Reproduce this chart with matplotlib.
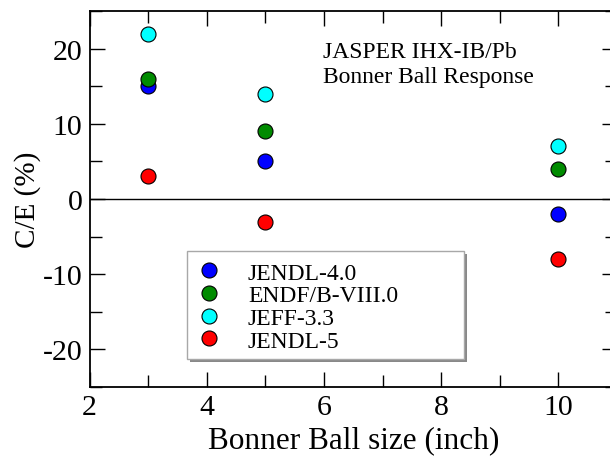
import matplotlib
matplotlib.use("Agg")
import matplotlib.pyplot as plt
from matplotlib.patches import Rectangle
from matplotlib.ticker import MultipleLocator

plt.rcParams['font.family'] = ['Liberation Serif', 'DejaVu Serif']
plt.rcParams['axes.unicode_minus'] = False

ball_size = [3, 5, 10]
libraries = ["JENDL-4.0", "ENDF/B-VIII.0", "JEFF-3.3", "JENDL-5"]
ce_values = {
    "JENDL-4.0":     [15, 5, -2],
    "ENDF/B-VIII.0": [16, 9, 4],
    "JEFF-3.3":      [22, 14, 7],
    "JENDL-5":       [3, -3, -8],
}
colors = {
    "JENDL-4.0": "#0000ff",
    "ENDF/B-VIII.0": "#008b00",
    "JEFF-3.3": "#00ffff",
    "JENDL-5": "#ff0000",
}

fig = plt.figure(figsize=(6.10, 4.64), dpi=100)
W, H = 610, 464


def fx(px):
    return px / W


def fy(py):
    return 1 - py / H


x0, x1, y0, y1 = 89.5, 617, 12, 388
ax = fig.add_axes([fx(x0), fy(y1), (x1 - x0) / W, (y1 - y0) / H])

ax.axhline(0, color="black", lw=1.0, zorder=1)

for name in libraries:
    ax.plot(ball_size, ce_values[name], linestyle="none", marker="o",
            markersize=10.8, markerfacecolor=colors[name],
            markeredgecolor="black", markeredgewidth=0.8, label=name, zorder=3)

ax.set_xlim(2, 11)
ax.set_ylim(-25, 25)
ax.xaxis.set_major_locator(MultipleLocator(2))
ax.xaxis.set_minor_locator(MultipleLocator(1))
ax.yaxis.set_major_locator(MultipleLocator(10))
ax.yaxis.set_minor_locator(MultipleLocator(5))
ax.tick_params(which="both", direction="in", top=True, right=True,
               width=1.0, labelsize=21.5, pad=5)
ax.tick_params(which="major", length=11)
ax.tick_params(which="minor", length=8.5)
for s in ax.spines.values():
    s.set_linewidth(1.3)

ax.set_xlabel("Bonner Ball size (inch)", fontsize=22.5, labelpad=4)
ax.set_ylabel("C/E (%)", fontsize=21, labelpad=1)

# title block
fig.text(fx(323), fy(58), "JASPER IHX-IB/Pb", fontsize=17,
         ha="left", va="baseline")
fig.text(fx(323), fy(83), "Bonner Ball Response", fontsize=17,
         ha="left", va="baseline")

# legend box with drop shadow
bx0, by0, bx1, by1 = 187, 252, 464, 360
shadow = Rectangle((fx(bx0 + 3), fy(by1 + 3)), (bx1 - bx0) / W, (by1 - by0) / H,
                   transform=fig.transFigure, facecolor="#888888",
                   edgecolor="none", zorder=4, clip_on=False)
box = Rectangle((fx(bx0), fy(by1)), (bx1 - bx0) / W, (by1 - by0) / H,
                transform=fig.transFigure, facecolor="white",
                edgecolor="#a8a8a8", lw=1.0, zorder=5, clip_on=False)
ax.add_patch(shadow)
ax.add_patch(box)

leg = ax.legend(loc="upper left",
                bbox_to_anchor=(fx(192.5), fy(263)),
                bbox_transform=fig.transFigure,
                fontsize=17, frameon=False,
                handletextpad=0.95, labelspacing=0.05, borderpad=0,
                borderaxespad=0, handlelength=1.4, markerscale=1.0)
leg.set_zorder(6)

fig.savefig("out.png", dpi=100)
